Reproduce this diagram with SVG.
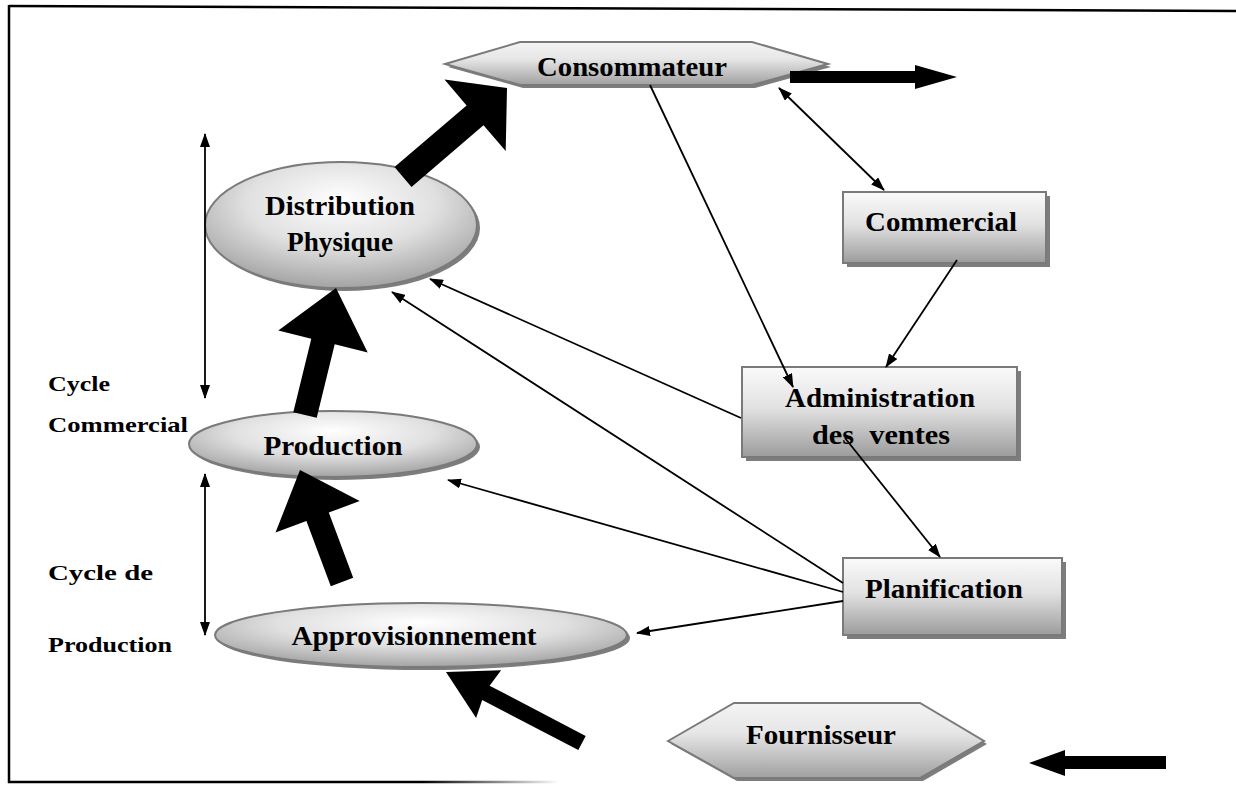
<svg xmlns="http://www.w3.org/2000/svg" width="1236" height="787" viewBox="0 0 1236 787">
  <defs>
    <linearGradient id="boxFill" x1="0" y1="0" x2="0" y2="1">
      <stop offset="0" stop-color="#fafafa"/>
      <stop offset="0.45" stop-color="#e2e2e2"/>
      <stop offset="1" stop-color="#9c9c9c"/>
    </linearGradient>
    <radialGradient id="ovalFill" cx="0.5" cy="0.35" r="0.7" fx="0.5" fy="0.3">
      <stop offset="0" stop-color="#ffffff"/>
      <stop offset="0.5" stop-color="#e0e0e0"/>
      <stop offset="1" stop-color="#9a9a9a"/>
    </radialGradient>
    <linearGradient id="hexFill" x1="0" y1="0" x2="0" y2="1">
      <stop offset="0" stop-color="#f4f4f4"/>
      <stop offset="0.4" stop-color="#e6e6e6"/>
      <stop offset="1" stop-color="#a0a0a0"/>
    </linearGradient>
    <linearGradient id="baseFade" x1="9" y1="0" x2="560" y2="0" gradientUnits="userSpaceOnUse">
      <stop offset="0" stop-color="#000"/>
      <stop offset="0.75" stop-color="#000"/>
      <stop offset="1" stop-color="#000" stop-opacity="0"/>
    </linearGradient>
    <marker id="tip" viewBox="0 0 14 10" refX="13" refY="5" markerWidth="14" markerHeight="10" markerUnits="userSpaceOnUse" orient="auto-start-reverse">
      <path d="M0,0 L14,5 L0,10 Z" fill="#000"/>
    </marker>
    <style>
      .shape { stroke: #7a7a7a; stroke-width: 2; }
      .shadow { fill: #7d7d7d; }
      .lbl { font-family: "Liberation Serif", "Times New Roman", serif; font-weight: bold; font-size: 28px; fill: #000; text-anchor: middle; }
      .side { font-family: "Liberation Serif", "Times New Roman", serif; font-weight: bold; font-size: 22px; fill: #000; }
      .thin { stroke: #000; stroke-width: 1.8; fill: none; }
      .bold { fill: #000; }
    </style>
  </defs>

  <rect width="1236" height="787" fill="#fff"/>

  <!-- frame -->
  <g id="frame" fill="none">
    <line x1="9" y1="6" x2="1236" y2="11" stroke="#000" stroke-width="2.5"/>
    <line x1="9" y1="5" x2="9" y2="783" stroke="#000" stroke-width="2.5"/>
    <line x1="8" y1="782" x2="560" y2="782" stroke="url(#baseFade)" stroke-width="2.5"/>
  </g>

  <!-- side labels -->
  <g id="side-labels">
    <text class="side" x="48" y="391" textLength="62" lengthAdjust="spacingAndGlyphs">Cycle</text>
    <text class="side" x="48" y="432" textLength="140" lengthAdjust="spacingAndGlyphs">Commercial</text>
    <text class="side" x="48" y="580" textLength="105" lengthAdjust="spacingAndGlyphs">Cycle de</text>
    <text class="side" x="48" y="652" textLength="124" lengthAdjust="spacingAndGlyphs">Production</text>
  </g>

  <!-- nodes -->
  <g id="consommateur">
    <polygon class="shadow" points="448,67 523,45 755,45 831,67 755,88 523,88"/>
    <polygon class="shape" fill="url(#hexFill)" points="445,64 520,42 752,42 828,64 752,85 520,85"/>
    <text class="lbl" x="632" y="76" textLength="190" lengthAdjust="spacingAndGlyphs">Consommateur</text>
  </g>

  <g id="fournisseur">
    <polygon class="shadow" points="671,744 737,706 923,706 987,744 923,781 737,781"/>
    <polygon class="shape" fill="url(#hexFill)" points="668,741 734,703 920,703 984,741 920,778 734,778"/>
    <text class="lbl" x="821" y="744" textLength="150" lengthAdjust="spacingAndGlyphs">Fournisseur</text>
  </g>

  <g id="distribution">
    <ellipse class="shadow" cx="344" cy="228" rx="136" ry="63"/>
    <ellipse class="shape" fill="url(#ovalFill)" cx="341" cy="225" rx="136" ry="63"/>
    <text class="lbl" x="340" y="215" textLength="150" lengthAdjust="spacingAndGlyphs">Distribution</text>
    <text class="lbl" x="340" y="251" textLength="106" lengthAdjust="spacingAndGlyphs">Physique</text>
  </g>

  <g id="production">
    <ellipse class="shadow" cx="336" cy="447" rx="144" ry="33"/>
    <ellipse class="shape" fill="url(#ovalFill)" cx="333" cy="444" rx="144" ry="33"/>
    <text class="lbl" x="333" y="455" textLength="139" lengthAdjust="spacingAndGlyphs">Production</text>
  </g>

  <g id="approvisionnement">
    <ellipse class="shadow" cx="424" cy="638" rx="206" ry="32"/>
    <ellipse class="shape" fill="url(#ovalFill)" cx="421" cy="635" rx="206" ry="32"/>
    <text class="lbl" x="414" y="645" textLength="245" lengthAdjust="spacingAndGlyphs">Approvisionnement</text>
  </g>

  <g id="commercial">
    <rect class="shadow" x="847" y="196" width="203" height="71"/>
    <rect class="shape" fill="url(#boxFill)" x="843" y="192" width="203" height="71"/>
    <text class="lbl" x="941" y="231" textLength="152" lengthAdjust="spacingAndGlyphs">Commercial</text>
  </g>

  <g id="administration">
    <rect class="shadow" x="746" y="371" width="275" height="90"/>
    <rect class="shape" fill="url(#boxFill)" x="742" y="367" width="275" height="90"/>
    <text class="lbl" x="880" y="407" textLength="190" lengthAdjust="spacingAndGlyphs">Administration</text>
    <text class="lbl" x="881" y="444" textLength="138" lengthAdjust="spacingAndGlyphs" xml:space="preserve">des  ventes</text>
  </g>

  <g id="planification">
    <rect class="shadow" x="847" y="562" width="219" height="77"/>
    <rect class="shape" fill="url(#boxFill)" x="843" y="558" width="219" height="77"/>
    <text class="lbl" x="944" y="598" textLength="158" lengthAdjust="spacingAndGlyphs">Planification</text>
  </g>

  <!-- connectors -->
  <g id="connectors">
    <!-- cycle spans -->
    <line class="thin" x1="205" y1="134" x2="205" y2="398" marker-start="url(#tip)" marker-end="url(#tip)"/>
    <line class="thin" x1="205" y1="474" x2="205" y2="635" marker-start="url(#tip)" marker-end="url(#tip)"/>

    <!-- information flows -->
    <line class="thin" x1="650" y1="85" x2="793" y2="387" marker-end="url(#tip)"/>
    <line class="thin" x1="779" y1="88" x2="884" y2="190" marker-start="url(#tip)" marker-end="url(#tip)"/>
    <line class="thin" x1="957" y1="260" x2="886" y2="367" marker-end="url(#tip)"/>
    <line class="thin" x1="741" y1="418" x2="430" y2="279" marker-end="url(#tip)"/>
    <line class="thin" x1="845" y1="438" x2="940" y2="557" marker-end="url(#tip)"/>
    <line class="thin" x1="843" y1="583" x2="392" y2="292" marker-end="url(#tip)"/>
    <line class="thin" x1="843" y1="592" x2="448" y2="480" marker-end="url(#tip)"/>
    <line class="thin" x1="843" y1="601" x2="637" y2="633" marker-end="url(#tip)"/>

    <!-- physical flows -->
    <polygon class="bold" points="585.7,735.9 489.6,685.7 501.1,670.3 446,672 476.1,718.1 482.2,699.9 578.3,750.1"/>
    <polygon class="bold" points="353.2,577.8 328.8,512.6 359.7,501.0 300,470 275.5,532.6 306.4,521.0 330.8,586.2"/>
    <polygon class="bold" points="316.7,417.8 334.7,344.3 367.7,352.4 336,288 278.3,330.6 311.3,338.7 293.3,412.2"/>
    <polygon class="bold" points="411.5,186.9 483.5,125.2 505.7,151.0 507,88 444.5,79.6 466.6,105.4 394.5,167.1"/>
    <polygon class="bold" points="790,71 915,71 915,65 957,77 915,89 915,83 790,83"/>
    <polygon class="bold" points="1166,756 1065,756 1065,750 1029,763 1065,776 1065,769 1166,769"/>
  </g>
</svg>
